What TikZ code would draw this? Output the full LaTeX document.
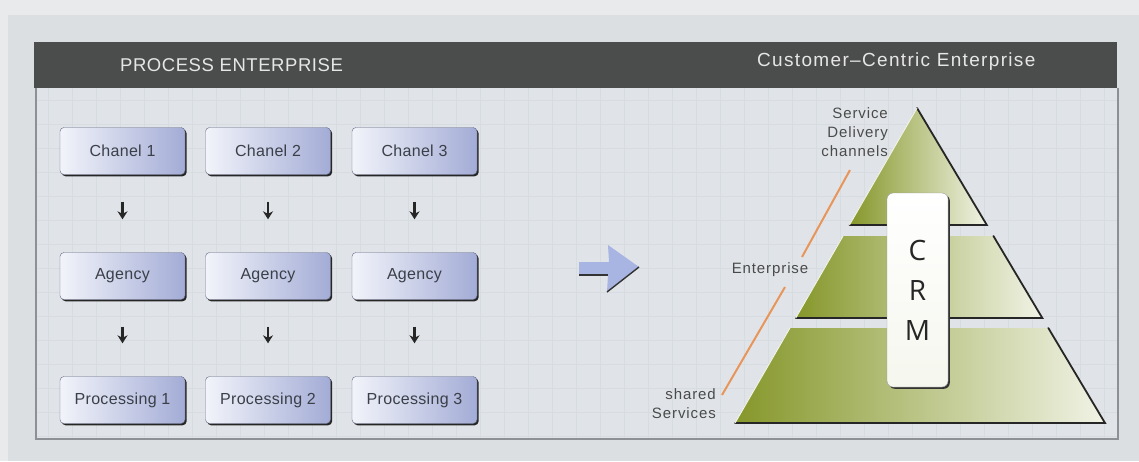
\documentclass[tikz,border=0pt]{standalone}
\usepackage{fontspec}
\setmainfont{Liberation Sans}
\newfontfamily\crmfont{Open Sans}
\newfontfamily\spacedA[LetterSpace=3]{Liberation Sans}
\newfontfamily\spacedB[LetterSpace=7]{Liberation Sans}
\newfontfamily\spacedC[LetterSpace=6]{Liberation Sans}
\newfontfamily\spacedD[LetterSpace=2]{Liberation Sans}
\usetikzlibrary{shadows,arrows.meta,calc}
\definecolor{bgout}{HTML}{E8EAEB}
\definecolor{bgframe}{HTML}{DCDFE1}
\definecolor{panel}{HTML}{E0E4E8}
\definecolor{gridc}{HTML}{D7DCE0}
\definecolor{header}{HTML}{4B4D4C}
\definecolor{headtxt}{HTML}{E6E6E6}
\definecolor{boxl}{HTML}{F2F4FA}
\definecolor{boxr}{HTML}{A3ACD6}
\definecolor{boxtxt}{HTML}{3A3F48}
\definecolor{olive}{HTML}{86972A}
\definecolor{olivelight}{HTML}{F1F3E6}
\definecolor{orangeln}{HTML}{E8955A}
\definecolor{arrowblue}{HTML}{A8B4E2}
\definecolor{labeltxt}{HTML}{4A4A4A}
\definecolor{framec}{HTML}{8D9094}
\tikzset{
  procbox/.style={rounded corners=4pt, minimum width=125pt, minimum height=47pt,
    left color=boxl, right color=boxr, draw=boxr!60!black, line width=0.4pt,
    drop shadow={shadow xshift=1.6pt, shadow yshift=-1.8pt, opacity=1, fill=black!85},
    font=\spacedD\fontsize{16}{18}\selectfont, text=boxtxt},
  smallarrow/.style={-{Stealth[length=8pt,width=10pt]}, line width=2.2pt, black!85},
  headtext/.style={text=headtxt, anchor=west, inner sep=0pt},
  lbl/.style={text=labeltxt, font=\spacedC\fontsize{15}{19}\selectfont, inner sep=0pt},
  tier/.style={left color=olive, right color=olivelight},
  darkedge/.style={draw=black!85, line width=1.8pt, line cap=round},
  lightedge/.style={draw=white!90!olive, line width=1pt},
  orangeline/.style={draw=orangeln, line width=2pt}
}
\begin{document}
\begin{tikzpicture}[x=1pt,y=-1pt]
\useasboundingbox (0,0) rectangle (1139,461);
% backgrounds
\fill[bgout] (0,0) rectangle (1139,461);
\fill[bgframe] (8,15) rectangle (1139,461);
\fill[panel] (36,88) rectangle (1118,439);
\begin{scope}
\clip (36,88) rectangle (1118,439);
\foreach \x in {48,72,...,1118} \draw[gridc, line width=0.5pt] (\x,88) -- (\x,439);
\foreach \y in {100,124,...,439} \draw[gridc, line width=0.5pt] (36,\y) -- (1118,\y);
\end{scope}
\draw[framec, line width=1.2pt] (36,88) -- (36,439) -- (1118,439) -- (1118,88);
% header
\fill[header] (34,42) rectangle (1117,88);
\node[headtext, font=\spacedA\fontsize{18.5}{20}\selectfont] (h1) at (120,65) {PROCESS ENTERPRISE};
\node[headtext, font=\spacedB\fontsize{19}{20}\selectfont] (h2) at (757,62) {Customer–Centric Enterprise};
% boxes
\foreach \i/\x in {1/122.5, 2/268, 3/414.5} {
  \node[procbox] (c\i) at (\x,151) {Chanel \i};
  \node[procbox] (a\i) at (\x,276) {Agency};
  \node[procbox] (p\i) at (\x,400) {Processing \i};
  \draw[smallarrow, shorten <=27pt, shorten >=33pt] (c\i) -- (a\i);
  \draw[smallarrow, shorten <=27pt, shorten >=33pt] (a\i) -- (p\i);
}
% big arrow
\fill[arrowblue] (579,262) -- (609,262) -- (608,245) -- (639,267) -- (607,292) -- (608,275) -- (579,275) -- cycle;
\draw[black!80, line width=1.6pt] (579,275) -- (608,275);
\draw[black!80, line width=1.4pt] (639,267) -- (607,292);
% pyramid
\fill[tier] (917,108) -- (986.8,225) -- (849.4,225) -- cycle;
\draw[darkedge] (917,108) -- (986.8,225) -- (849.4,225);
\draw[lightedge] (849.4,225) -- (917,108);
\fill[tier] (843,236) -- (993.4,236) -- (1042.3,318) -- (795.7,318) -- cycle;
\draw[darkedge] (993.4,236) -- (1042.3,318) -- (795.7,318);
\draw[lightedge] (795.7,318) -- (843,236);
\fill[tier] (789.9,328) -- (1048.3,328) -- (1105,423) -- (735,423) -- cycle;
\draw[darkedge] (1048.3,328) -- (1105,423) -- (735,423);
\draw[lightedge] (735,423) -- (789.9,328);
% CRM box
\node[rounded corners=6pt, minimum width=61pt, minimum height=194pt,
  top color=white, bottom color=white!92!olive, draw=black!40,
  drop shadow={shadow xshift=1.8pt, shadow yshift=-1.8pt, opacity=1, fill=black!80},
  align=center, text=black!85, font=\crmfont\fontsize{28}{40}\selectfont] (crm) at (917.5,290) {C\\R\\M};
% labels
\node[lbl, align=right, anchor=north east] (sdc) at (888,107) {Service\\Delivery\\channels};
\node[lbl] (ent) at (770,270) {Enterprise};
\node[lbl, align=right, anchor=east] (shs) at (716,404) {shared\\Services};
\coordinate (o1a) at (850,170);
\coordinate (o1b) at (802,257);
\coordinate (o2a) at (785,287);
\coordinate (o2b) at (722,395);
\draw[orangeline] (o1a) -- (o1b);
\draw[orangeline] (o2a) -- (o2b);
\end{tikzpicture}
\end{document}
